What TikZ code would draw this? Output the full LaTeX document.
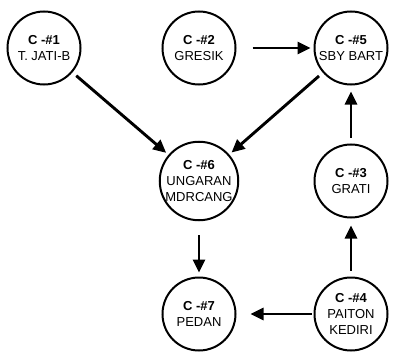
\documentclass[tikz,border=0pt]{standalone}
\usepackage{fontspec}
\setmainfont{Liberation Sans}
\usetikzlibrary{arrows.meta}

\begin{document}
\begin{tikzpicture}
      [ x=1pt, y=-1pt
      , station/.style={circle, draw, line width=2pt, minimum size=73pt, inner sep=0pt, align=center, font=\fontsize{13}{16}\selectfont}
      , feed/.style={draw, line width=2.9pt, -{Triangle[length=13pt, width=12pt]}}
      ]
    \useasboundingbox (0,0) rectangle (394,364);

    \node[station] (C1) at (44,48) {\textbf{C -\#1}\\T. JATI-B};
    \node[station] (C2) at (199,48) {\textbf{C -\#2}\\GRESIK};
    \node[station] (C5) at (351,48) {\textbf{C -\#5}\\SBY BART};
    \node[station] (C6) at (199,181) {\textbf{C -\#6}\\UNGARAN\\MDRCANG};
    \node[station] (C3) at (351,181) {\textbf{C -\#3}\\GRATI};
    \node[station] (C7) at (199,314) {\textbf{C -\#7}\\PEDAN};
    \node[station] (C4) at (351,314) {\textbf{C -\#4}\\PAITON\\KEDIRI};

    \draw[feed, shorten <=16pt, shorten >=3pt] (C2) -- (C5);
    \draw[feed, shorten <=5pt, shorten >=3pt] (C1) -- (C6);
    \draw[feed, shorten <=5pt, shorten >=3pt] (C5) -- (C6);
    \draw[feed, shorten <=6pt, shorten >=6pt] (C3) -- (C5);
    \draw[feed, shorten <=14pt, shorten >=4pt] (C6) -- (C7);
    \draw[feed, shorten <=6pt, shorten >=7pt] (C4) -- (C3);
    \draw[feed, shorten <=2pt, shorten >=14pt] (C4) -- (C7);
\end{tikzpicture}
\end{document}
